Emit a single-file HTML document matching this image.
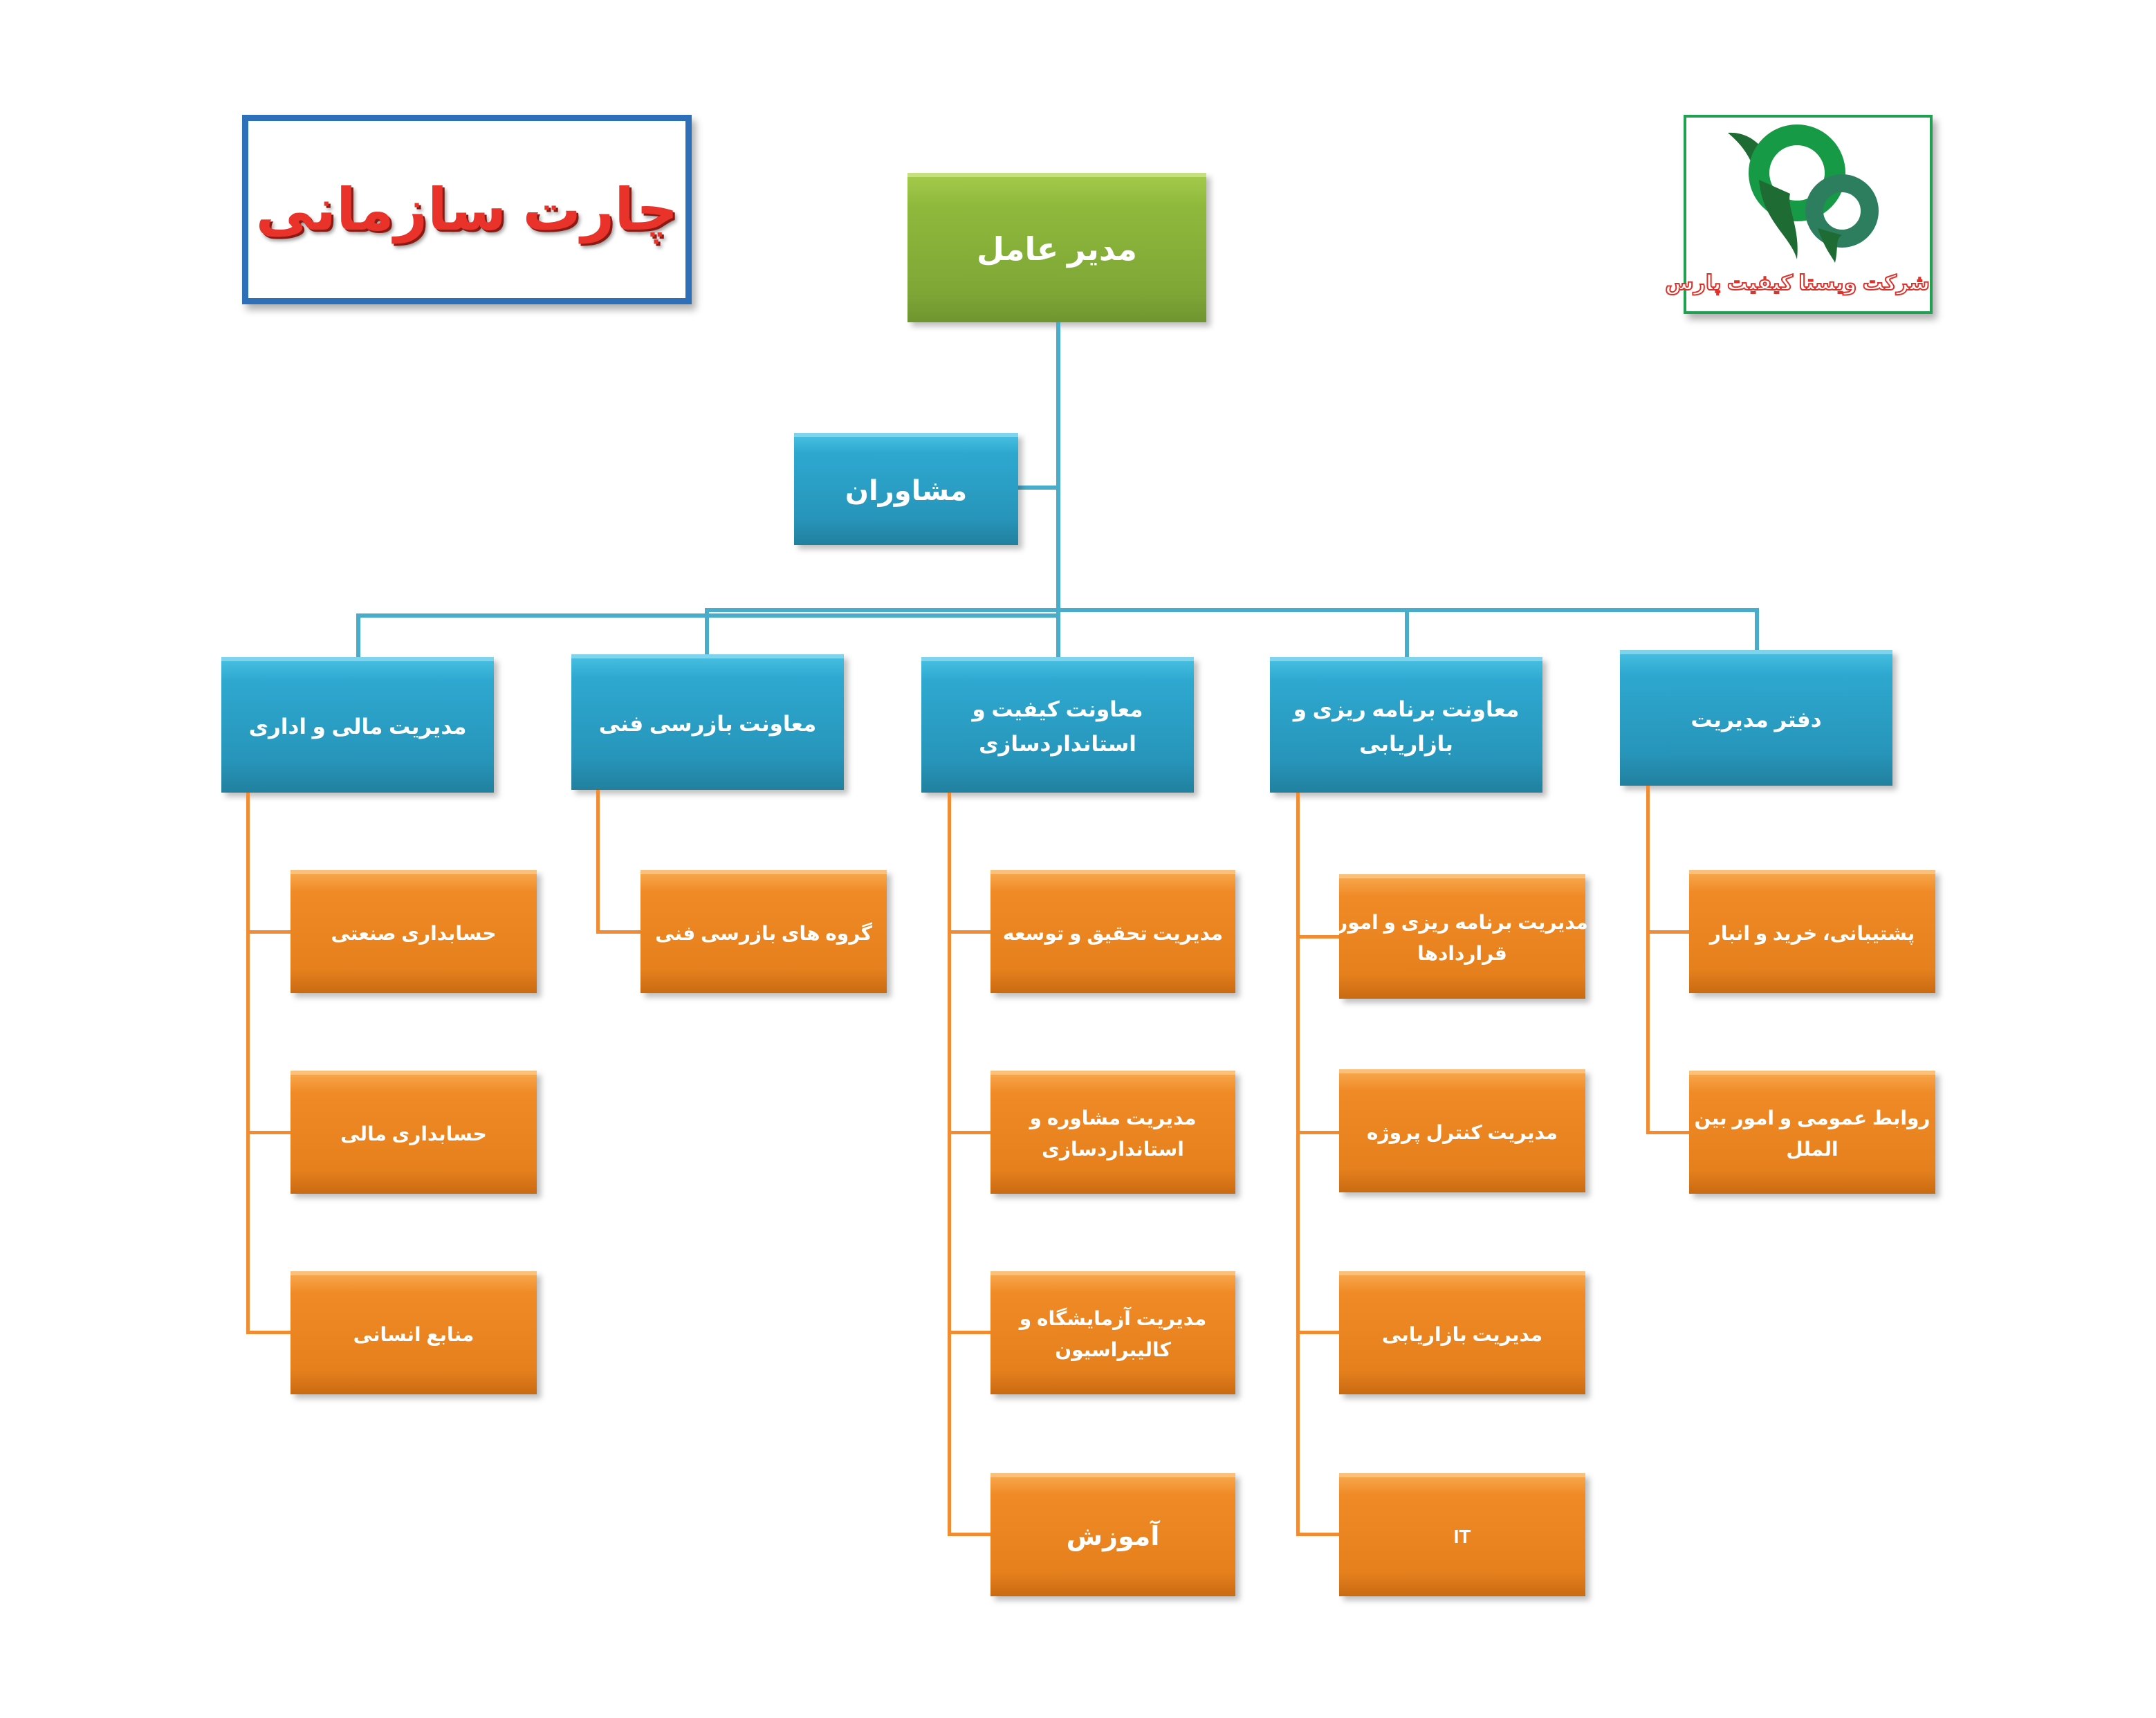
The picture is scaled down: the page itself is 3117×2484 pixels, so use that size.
<!DOCTYPE html>
<html><head><meta charset="utf-8"><style>
body{margin:0;width:3117px;height:2484px;background:#fff;position:relative;overflow:hidden;font-family:"Liberation Sans","DejaVu Sans",sans-serif}
.b{position:absolute;display:flex;align-items:center;justify-content:center;text-align:center;color:#fff;font-weight:bold;direction:rtl;box-sizing:border-box;line-height:1.6;box-shadow:6px 6px 8px rgba(0,0,0,.25);white-space:nowrap}
.bl{background:linear-gradient(#45bde0,#2ea8d0 15%,#2795ba 75%,#21809f);border-top:6px solid #7fd3ec;font-size:31px}
.or{background:linear-gradient(#f7a54a,#f08a26 15%,#e5801d 80%,#c96a12);border-top:6px solid #fbc07a;font-size:28px}
.l{position:absolute}
.lb{background:#4aaccb}
.lo{background:#f28c34}
</style></head><body>
<div style="position:absolute;left:350px;top:166px;width:650px;height:274px;box-sizing:border-box;border:9px solid #2e6fba;box-shadow:6px 8px 10px rgba(0,0,0,.3);display:flex;align-items:center;justify-content:center;direction:rtl;font-size:84px;white-space:nowrap;font-weight:bold;color:#e8322a;text-shadow:3px 3px 0 #8a1a14,5px 6px 6px rgba(0,0,0,.4)">چارت سازمانی</div>
<div style="position:absolute;left:2434px;top:166px;width:360px;height:288px;box-sizing:border-box;border:4px solid #20a050;box-shadow:6px 8px 10px rgba(0,0,0,.3);background:#fff">
<svg width="352" height="280" style="position:absolute;left:0;top:0">
<path d="M60 22 C90 20 110 40 120 60 L100 80 C90 50 75 35 60 22Z" fill="#1e6b33"/>
<circle cx="160" cy="80" r="55" fill="none" stroke="#179a45" stroke-width="30"/>
<circle cx="225" cy="135" r="40" fill="none" stroke="#2d7e5e" stroke-width="26"/>
<path d="M105 90 C110 150 150 170 160 205 C165 160 145 130 150 110Z" fill="#1e6b33"/>
<path d="M190 160 C200 190 210 200 215 210 C220 190 215 175 225 170Z" fill="#1e6b33"/>
</svg>
<div style="position:absolute;left:0;right:0;top:222px;text-align:center;direction:rtl;font-size:30px;white-space:nowrap;font-weight:bold;color:#fff;-webkit-text-stroke:2px #e0302a">شرکت ویستا کیفیت پارس</div>
</div>

<div class="b" style="left:1312px;top:250px;width:432px;height:216px;background:linear-gradient(#a3c94a,#8fb93c 20%,#7ea636 80%,#6f9530);border-top:6px solid #c5e07f;font-size:46px">مدیر عامل</div>

<div class="l lb" style="left:1527px;top:466px;width:6px;height:484px"></div>
<div class="l lb" style="left:1472px;top:702px;width:58px;height:6px"></div>
<div class="b bl" style="left:1148px;top:626px;width:324px;height:162px;font-size:40px">مشاوران</div>

<div class="l lb" style="left:515px;top:887px;width:1015px;height:6px"></div>
<div class="l lb" style="left:1019px;top:879px;width:1524px;height:6px"></div>
<div class="l lb" style="left:515px;top:887px;width:6px;height:63px"></div>
<div class="l lb" style="left:1019px;top:879px;width:6px;height:67px"></div>
<div class="l lb" style="left:2031px;top:882px;width:6px;height:68px"></div>
<div class="l lb" style="left:2537px;top:879px;width:6px;height:61px"></div>

<div class="b bl" style="left:320px;top:950px;width:394px;height:196px">مدیریت مالی و اداری</div>
<div class="b bl" style="left:826px;top:946px;width:394px;height:196px">معاونت بازرسی فنی</div>
<div class="b bl" style="left:1332px;top:950px;width:394px;height:196px">معاونت کیفیت و<br>استانداردسازی</div>
<div class="b bl" style="left:1836px;top:950px;width:394px;height:196px">معاونت برنامه ریزی و<br>بازاریابی</div>
<div class="b bl" style="left:2342px;top:940px;width:394px;height:196px">دفتر مدیریت</div>

<div class="l lo" style="left:356px;top:1146px;width:5px;height:781px"></div>
<div class="l lo" style="left:356px;top:1345px;width:64px;height:5px"></div>
<div class="l lo" style="left:356px;top:1635px;width:64px;height:5px"></div>
<div class="l lo" style="left:356px;top:1924px;width:64px;height:5px"></div>

<div class="l lo" style="left:862px;top:1142px;width:5px;height:208px"></div>
<div class="l lo" style="left:862px;top:1345px;width:64px;height:5px"></div>

<div class="l lo" style="left:1370px;top:1146px;width:5px;height:1074px"></div>
<div class="l lo" style="left:1370px;top:1345px;width:62px;height:5px"></div>
<div class="l lo" style="left:1370px;top:1635px;width:62px;height:5px"></div>
<div class="l lo" style="left:1370px;top:1924px;width:62px;height:5px"></div>
<div class="l lo" style="left:1370px;top:2216px;width:62px;height:5px"></div>

<div class="l lo" style="left:1874px;top:1146px;width:5px;height:1074px"></div>
<div class="l lo" style="left:1874px;top:1352px;width:62px;height:5px"></div>
<div class="l lo" style="left:1874px;top:1635px;width:62px;height:5px"></div>
<div class="l lo" style="left:1874px;top:1924px;width:62px;height:5px"></div>
<div class="l lo" style="left:1874px;top:2216px;width:62px;height:5px"></div>

<div class="l lo" style="left:2380px;top:1136px;width:5px;height:504px"></div>
<div class="l lo" style="left:2380px;top:1345px;width:62px;height:5px"></div>
<div class="l lo" style="left:2380px;top:1635px;width:62px;height:5px"></div>

<div class="b or" style="left:420px;top:1258px;width:356px;height:178px">حسابداری صنعتی</div>
<div class="b or" style="left:420px;top:1548px;width:356px;height:178px">حسابداری مالی</div>
<div class="b or" style="left:420px;top:1838px;width:356px;height:178px">منابع انسانی</div>

<div class="b or" style="left:926px;top:1258px;width:356px;height:178px">گروه های بازرسی فنی</div>

<div class="b or" style="left:1432px;top:1258px;width:354px;height:178px">مدیریت تحقیق و توسعه</div>
<div class="b or" style="left:1432px;top:1548px;width:354px;height:178px">مدیریت مشاوره و<br>استانداردسازی</div>
<div class="b or" style="left:1432px;top:1838px;width:354px;height:178px">مدیریت آزمایشگاه و<br>کالیبراسیون</div>
<div class="b or" style="left:1432px;top:2130px;width:354px;height:178px;font-size:38px">آموزش</div>

<div class="b or" style="left:1936px;top:1264px;width:356px;height:180px">مدیریت برنامه ریزی و امور<br>قراردادها</div>
<div class="b or" style="left:1936px;top:1546px;width:356px;height:178px">مدیریت کنترل پروژه</div>
<div class="b or" style="left:1936px;top:1838px;width:356px;height:178px">مدیریت بازاریابی</div>
<div class="b or" style="left:1936px;top:2130px;width:356px;height:178px">IT</div>

<div class="b or" style="left:2442px;top:1258px;width:356px;height:178px">پشتیبانی، خرید و انبار</div>
<div class="b or" style="left:2442px;top:1548px;width:356px;height:178px">روابط عمومی و امور بین<br>الملل</div>
</body></html>
